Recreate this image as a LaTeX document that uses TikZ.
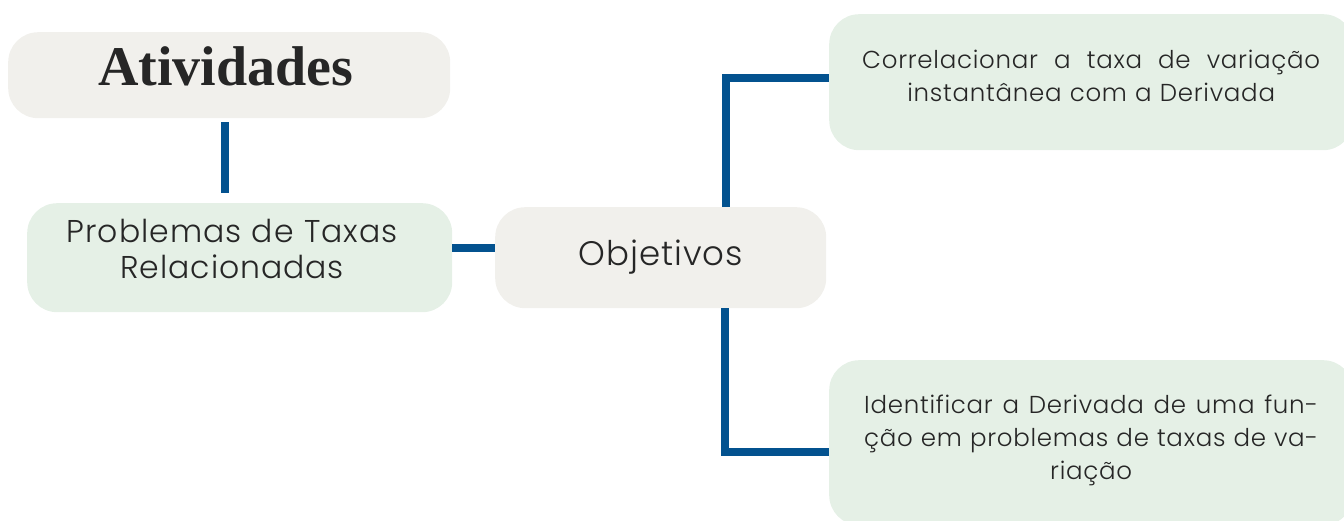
\documentclass[tikz,border=0pt]{standalone}
\usepackage{fontspec}
\setmainfont{Poppins}[UprightFont=* Light, LetterSpace=3]
\newfontfamily\titlefont{Liberation Serif}
\usetikzlibrary{positioning}

\definecolor{cardgray}{HTML}{F1F0EC}
\definecolor{cardgreen}{HTML}{E5F0E6}
\definecolor{linkblue}{HTML}{03528F}
\definecolor{inkdark}{HTML}{262626}

\tikzset{
  card/.style={anchor=north west, rounded corners=30pt, inner sep=0pt,
    align=center, text=inkdark},
  graycard/.style={card, fill=cardgray},
  greencard/.style={card, fill=cardgreen},
  bigtext/.style={font=\fontsize{31.5}{36}\selectfont},
  smalltext/.style={font=\fontsize{24.5}{33}\selectfont},
  link/.style={draw=linkblue, line width=8pt}
}

\begin{document}
\begin{tikzpicture}[x=1pt, y=-1pt]
  \useasboundingbox (0,0) rectangle (1344,520);

  % cards
  \node[graycard, text width=442pt, text height=53pt, text depth=33pt,
    font=\titlefont\bfseries\fontsize{56}{60}\selectfont] (atv) at (8,32) {Atividades\kern7pt};
  \node[greencard, bigtext, text width=425pt, text height=39pt, text depth=70pt]
    (prob) at (27,203) {Problemas de Taxas\kern15pt\\Relacionadas\kern15pt};
  \node[graycard, font=\fontsize{34}{36}\selectfont, text width=331pt, text height=58pt,
    text depth=43pt] (obj) at (495,207) {Objetivos};
  \node[greencard, smalltext, text width=524pt, text height=54pt, text depth=82pt]
    (corr) at (829,14) {\makebox[458pt][s]{Correlacionar\hfill a\hfill taxa\hfill de\hfill variação}\\
      instantânea com a Derivada};
  \node[greencard, smalltext, text width=524pt, text height=53pt, text depth=112pt]
    (ident) at (829,360) {\makebox[454pt][s]{Identificar\hfill a\hfill Derivada\hfill de\hfill uma\hfill fun-}\\
      \makebox[454pt][s]{ção\hfill em\hfill problemas\hfill de\hfill taxas\hfill de\hfill va-}\\riação};

  % connectors
  \draw[link, shorten <=4pt, shorten >=10pt] ([xshift=-4pt]atv.south)
    -- ([xshift=-4pt]atv.south |- prob.north);
  \draw[link] ([yshift=9.5pt]prob.east) -- ([yshift=9.5pt]obj.west);
  \draw[link] ([xshift=65.5pt]obj.north) |- ([yshift=4pt]corr.west);
  \draw[link] ([xshift=64pt]obj.south) |- ([yshift=-9.5pt]ident.west);
\end{tikzpicture}
\end{document}
